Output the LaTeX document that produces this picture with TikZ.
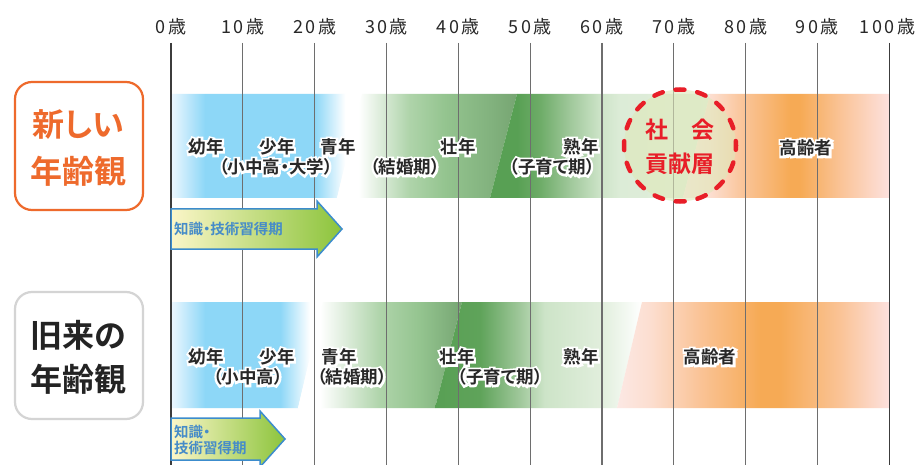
\documentclass[tikz,border=0pt]{standalone}
\usepackage{fontspec}
\setmainfont{Noto Sans CJK JP}[BoldFont={Noto Sans CJK JP Bold}]
\newfontfamily\jpb{Noto Sans CJK JP Bold}[RawFeature=+palt]
\newfontfamily\jph{Noto Sans CJK JP Bold}[RawFeature=+palt,FakeBold=25]
\newcommand\hl[1]{\leavevmode\rlap{\textcolor{white}{\jph #1}}#1}
\newcommand\kk{\kern2.5pt}
\definecolor{lblc}{RGB}{40,40,40}
\definecolor{orng}{RGB}{238,106,44}
\definecolor{redc}{RGB}{232,30,40}
\definecolor{arrowblue}{RGB}{60,140,205}
\definecolor{arrowtxt}{RGB}{70,140,200}
\definecolor{arrowY}{RGB}{251,246,200}
\definecolor{arrowG}{RGB}{140,196,60}
\definecolor{circfill}{RGB}{222,232,185}
\definecolor{linec}{RGB}{110,110,110}
\definecolor{linedk}{RGB}{60,60,60}
\definecolor{graybox}{RGB}{212,212,212}
\definecolor{blacktxt}{RGB}{35,35,35}
% top band shadings
\pgfdeclarehorizontalshading{sA}{100bp}{rgb(0bp)=(0.93,0.97,1); rgb(25bp)=(0.93,0.97,1); rgb(33.9bp)=(0.553,0.843,0.969); rgb(62.7bp)=(0.553,0.843,0.969); rgb(70.6bp)=(1,1,1); rgb(100bp)=(1,1,1)}
\pgfdeclarehorizontalshading{sB}{100bp}{rgb(0bp)=(1,1,1); rgb(25bp)=(1,1,1); rgb(31bp)=(1,1,1); rgb(45bp)=(0.686,0.831,0.667); rgb(55bp)=(0.580,0.769,0.561); rgb(67.5bp)=(0.510,0.698,0.494); rgb(75bp)=(0.463,0.647,0.447); rgb(100bp)=(0.463,0.647,0.447)}
\pgfdeclarehorizontalshading{sC}{100bp}{rgb(0bp)=(0.345,0.627,0.329); rgb(25bp)=(0.345,0.627,0.329); rgb(31.1bp)=(0.345,0.627,0.329); rgb(36.4bp)=(0.431,0.675,0.408); rgb(43.2bp)=(0.627,0.784,0.608); rgb(50bp)=(0.804,0.894,0.784); rgb(54.5bp)=(0.863,0.925,0.843); rgb(75bp)=(0.882,0.933,0.863); rgb(100bp)=(0.882,0.933,0.863)}
\pgfdeclarehorizontalshading{sD}{100bp}{rgb(0bp)=(0.988,0.910,0.894); rgb(25bp)=(0.988,0.910,0.894); rgb(31.6bp)=(0.988,0.871,0.816); rgb(40bp)=(0.980,0.765,0.588); rgb(51bp)=(0.965,0.667,0.333); rgb(53.4bp)=(0.965,0.667,0.333); rgb(63.1bp)=(0.980,0.765,0.588); rgb(75bp)=(0.992,0.882,0.871); rgb(100bp)=(0.992,0.882,0.871)}
% bottom band shadings
\pgfdeclarehorizontalshading{bA}{100bp}{rgb(0bp)=(0.93,0.97,1); rgb(25bp)=(0.93,0.97,1); rgb(36.2bp)=(0.553,0.843,0.969); rgb(60.9bp)=(0.553,0.843,0.969); rgb(70.7bp)=(1,1,1); rgb(100bp)=(1,1,1)}
\pgfdeclarehorizontalshading{bB}{100bp}{rgb(0bp)=(1,1,1); rgb(25bp)=(1,1,1); rgb(31.7bp)=(1,1,1); rgb(50bp)=(0.686,0.831,0.667); rgb(62.2bp)=(0.580,0.769,0.561); rgb(69.8bp)=(0.510,0.698,0.494); rgb(75bp)=(0.463,0.647,0.447); rgb(100bp)=(0.463,0.647,0.447)}
\pgfdeclarehorizontalshading{bC}{100bp}{rgb(0bp)=(0.345,0.627,0.329); rgb(25bp)=(0.345,0.627,0.329); rgb(35.9bp)=(0.373,0.639,0.353); rgb(45.5bp)=(0.627,0.784,0.608); rgb(51.5bp)=(0.804,0.894,0.784); rgb(65bp)=(0.882,0.933,0.863); rgb(72bp)=(0.961,0.980,0.957); rgb(75bp)=(1,1,1); rgb(100bp)=(1,1,1)}
\pgfdeclarehorizontalshading{bD}{100bp}{rgb(0bp)=(0.988,0.910,0.894); rgb(25bp)=(0.988,0.910,0.894); rgb(31.1bp)=(0.988,0.871,0.816); rgb(40.3bp)=(0.980,0.765,0.588); rgb(51.3bp)=(0.965,0.667,0.333); rgb(55bp)=(0.965,0.667,0.333); rgb(66bp)=(0.980,0.765,0.588); rgb(75bp)=(0.992,0.882,0.871); rgb(100bp)=(0.992,0.882,0.871)}
\begin{document}
\begin{tikzpicture}[x=1pt,y=-1pt,
  lbl/.style={font=\jpb\fontsize{17.5}{20}\selectfont, text=lblc, inner sep=0},
  agelbl/.style={font=\fontsize{18}{20}\selectfont, text=lblc, inner sep=0},
  bigtxt/.style={font=\jpb\fontsize{32}{36}\selectfont, inner sep=0},
  circtxt/.style={font=\jpb\fontsize{23}{26}\selectfont, text=redc, inner sep=0},
  arrtxt/.style={font=\jpb\fontsize{14.5}{17}\selectfont, text=arrowtxt, inner sep=0, anchor=west},
  vline/.style={draw=linec, line width=1.2},
  vlinedk/.style={draw=linedk, line width=1.6},
  learnarrow/.style={left color=arrowY, right color=arrowG, draw=arrowblue, line width=1.5, line join=miter},
  viewbox/.style={line width=2.2, rounded corners=17, minimum width=128, minimum height=128, inner sep=0}
]
\useasboundingbox (0,0) rectangle (918,465);
\fill[white] (0,0) rectangle (918,465);

% ---- top band (new view)
\shade[shading=sA] (171,94) -- (362,94) -- (337,198) -- (171,198) -- cycle;
\shade[shading=sB] (362,94) -- (517,94) -- (490,198) -- (337,198) -- cycle;
\shade[shading=sC] (517,94) -- (710,94) -- (683,198) -- (490,198) -- cycle;
\shade[shading=sD] (710,94) -- (889,94) -- (889,198) -- (683,198) -- cycle;
% ---- bottom band (old view)
\shade[shading=bA] (171,302) -- (323,302) -- (298,408) -- (171,408) -- cycle;
\shade[shading=bB] (323,302) -- (462,302) -- (435,408) -- (298,408) -- cycle;
\shade[shading=bC] (462,302) -- (642,302) -- (617,408) -- (435,408) -- cycle;
\shade[shading=bD] (642,302) -- (889,302) -- (889,408) -- (617,408) -- cycle;

% ---- vertical age lines
\foreach \a in {0,10,...,100} {
  \coordinate (top\a) at ({171+7.183*\a},43);
  \coordinate (bot\a) at ({171+7.183*\a},465);
}
\foreach \a in {10,20,...,90} { \draw[vline] (top\a) -- (bot\a); }
\draw[vlinedk] (top0) -- (bot0);
\draw[vlinedk] (top100) -- (bot100);

% ---- age labels
\node[agelbl] (age0) at ({171+7.183*0},27) {0\kk 歳};
\node[agelbl] (age10) at ({171+7.183*10},27) {1\kk 0\kk 歳};
\node[agelbl] (age20) at ({171+7.183*20},27) {2\kk 0\kk 歳};
\node[agelbl] (age30) at ({171+7.183*30},27) {3\kk 0\kk 歳};
\node[agelbl] (age40) at ({171+7.183*40},27) {4\kk 0\kk 歳};
\node[agelbl] (age50) at ({171+7.183*50},27) {5\kk 0\kk 歳};
\node[agelbl] (age60) at ({171+7.183*60},27) {6\kk 0\kk 歳};
\node[agelbl] (age70) at ({171+7.183*70},27) {7\kk 0\kk 歳};
\node[agelbl] (age80) at ({171+7.183*80},27) {8\kk 0\kk 歳};
\node[agelbl] (age90) at ({171+7.183*90},27) {9\kk 0\kk 歳};
\node[agelbl] (age100) at ({171+7.183*100-2},27) {1\kk 0\kk 0\kk 歳};

% ---- social contribution circle
\node[circle, draw=redc, line width=4.5, dash pattern=on 9pt off 13pt, dash phase=4.5pt, line cap=round,
      fill=circfill, fill opacity=0.6, draw opacity=1, text opacity=1, minimum size=112, inner sep=0] (kouken) at (680,145.5) {};
\node[circtxt] (shakai) at (680,130) {社　会};
\node[circtxt] (kensou) at (680,164) {貢献層};

% ---- learning arrows
\draw[learnarrow] (171,209) -- (317,209) -- (317,201) -- (342,229) -- (317,257) -- (317,249) -- (171,249) -- cycle;
\draw[learnarrow] (171,418) -- (260,418) -- (260,411) -- (285,439) -- (260,467) -- (260,460) -- (171,460) -- cycle;
\node[arrtxt] (learnA) at (174,229) {知識・技術習得期};
\node[arrtxt] (learnB1) at (174,432) {知識・};
\node[arrtxt] (learnB2) at (174,448) {技術習得期};

% ---- left boxes
\node[viewbox, draw=orng] (newbox) at (79,146) {};
\node[bigtxt, text=orng] (new1) at (78,125) {新しい};
\node[bigtxt, text=orng] (new2) at (78,171) {年齢観};
\node[viewbox, draw=graybox, minimum height=127] (oldbox) at (79,355.5) {};
\node[bigtxt, text=blacktxt] (old1) at (78,335) {旧来の};
\node[bigtxt, text=blacktxt] (old2) at (78,379) {年齢観};

% ---- stage labels, new view
\node[lbl] (tYonen) at (206,147) {\hl{幼年}};
\node[lbl] (tShonen) at (277,147) {\hl{少年}};
\node[lbl] (tSeinen) at (338,147) {\hl{青年}};
\node[lbl] (tSchool) at (276,167) {\hl{（小中高・大学）}};
\node[lbl] (tSonen) at (458,147) {\hl{壮年}};
\node[lbl] (tKekkon) at (405,167) {\hl{（結婚期）}};
\node[lbl] (tJukunen) at (581,147) {\hl{熟年}};
\node[lbl] (tKosodate) at (552,167) {\hl{（子育て期）}};
\node[lbl] (tKorei) at (806,148) {\hl{高齢者}};
% ---- stage labels, old view
\node[lbl] (bYonen) at (206,357) {\hl{幼年}};
\node[lbl] (bShonen) at (277,357) {\hl{少年}};
\node[lbl] (bSchool) at (248,377) {\hl{（小中高）}};
\node[lbl] (bSeinen) at (339,357) {\hl{青年}};
\node[lbl] (bKekkon) at (352,377) {\hl{（結婚期）}};
\node[lbl] (bSonen) at (457,357) {\hl{壮年}};
\node[lbl] (bKosodate) at (500,377) {\hl{（子育て期）}};
\node[lbl] (bJukunen) at (581,357) {\hl{熟年}};
\node[lbl] (bKorei) at (710,357) {\hl{高齢者}};
\end{tikzpicture}
\end{document}
